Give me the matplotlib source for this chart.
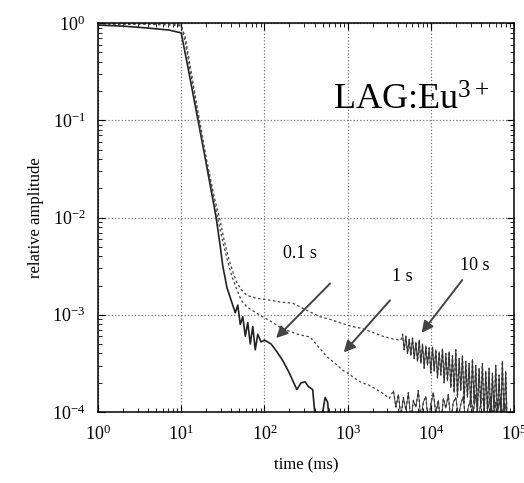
import numpy as np
import matplotlib
matplotlib.use("Agg")
import matplotlib.pyplot as plt

plt.rcParams['font.family'] = ['Liberation Serif', 'DejaVu Serif']
plt.rcParams['mathtext.fontset'] = 'custom'
plt.rcParams['mathtext.rm'] = 'Liberation Serif'
plt.rcParams['mathtext.it'] = 'Liberation Serif:italic'

# decay curves as log10(time / ms) and log10(amplitude)
# 0.1 s excitation (solid)
lt_01 = [0.0, 0.3, 0.6, 0.85, 1.0, 1.08, 1.18, 1.28, 1.36, 1.42, 1.47, 1.50, 1.55, 1.60,
         1.65, 1.68, 1.71, 1.74, 1.77, 1.80, 1.83, 1.86, 1.89, 1.92, 1.96, 2.0, 2.08, 2.15,
         2.22, 2.30, 2.39, 2.44, 2.49, 2.53, 2.58, 2.61, 2.66, 2.70, 2.73, 2.76, 2.79, 2.82, 2.86]
ly_01 = [-0.02, -0.03, -0.05, -0.07, -0.10, -0.45, -0.90, -1.35, -1.72, -2.0, -2.3, -2.5, -2.72, -2.85,
         -2.98, -2.9, -3.1, -3.02, -3.22, -3.08, -3.3, -3.12, -3.36, -3.2, -3.28, -3.26, -3.3, -3.38,
         -3.47, -3.6, -3.77, -3.7, -3.69, -3.74, -3.77, -4.05, -4.3, -4.0, -3.85, -3.9, -4.2, -4.4, -4.5]

# 1 s excitation (dashed)
lt_1 = [0.0, 0.5, 0.9, 1.0, 1.05, 1.12, 1.2, 1.3, 1.4, 1.45, 1.5, 1.55, 1.6, 1.65, 1.72, 1.79,
        1.9, 2.0, 2.1, 2.19, 2.3, 2.4, 2.55, 2.65, 2.75, 2.85, 2.94, 3.0, 3.08, 3.17, 3.25, 3.33,
        3.41, 3.5, 3.55, 3.58, 3.61, 3.64, 3.67, 3.70, 3.73, 3.76, 3.79, 3.82, 3.85, 3.88, 3.91,
        3.94, 3.97, 4.00, 4.03, 4.06, 4.09, 4.12, 4.15, 4.18, 4.21, 4.24, 4.27, 4.30, 4.33, 4.36,
        4.39, 4.42, 4.45, 4.48, 4.51, 4.54, 4.57, 4.60, 4.63, 4.66, 4.69, 4.72, 4.75, 4.78, 4.81,
        4.84, 4.87, 4.90]
ly_1 = [-0.01, -0.01, -0.02, -0.03, -0.2, -0.55, -0.95, -1.42, -1.85, -2.05, -2.25, -2.42, -2.58, -2.7, -2.85, -2.92,
        -2.98, -3.03, -3.08, -3.13, -3.17, -3.2, -3.23, -3.33, -3.43, -3.5, -3.57, -3.6, -3.65, -3.7, -3.72, -3.76,
        -3.8, -3.86, -3.78, -3.95, -3.82, -4.05, -3.85, -3.98, -3.80, -4.10, -3.88, -3.95, -3.78, -4.08, -3.90,
        -3.84, -4.12, -3.92, -3.80, -4.02, -3.88, -4.15, -3.86, -3.96, -3.82, -4.10, -3.90, -3.85, -4.05, -3.92,
        -3.84, -4.12, -3.95, -3.86, -4.00, -3.82, -4.10, -3.90, -3.86, -4.08, -3.94, -3.84, -4.12, -3.90, -3.96,
        -3.85, -4.10, -3.92]

# 10 s excitation (dashed)
lt_10 = [0.0, 0.5, 0.9, 1.0, 1.05, 1.12, 1.2, 1.3, 1.4, 1.46, 1.52, 1.58, 1.63, 1.67, 1.72, 1.79,
         1.9, 2.07, 2.2, 2.34, 2.5, 2.67, 2.8, 2.94, 3.05, 3.17, 3.3, 3.42, 3.55, 3.64,
         3.66, 3.68, 3.70, 3.72, 3.74, 3.76, 3.78, 3.80, 3.82, 3.84, 3.86, 3.88, 3.90, 3.92, 3.94, 3.96,
         3.98, 4.00, 4.02, 4.04, 4.06, 4.08, 4.10, 4.12, 4.14, 4.16, 4.18, 4.20, 4.22, 4.24, 4.26, 4.28,
         4.30, 4.32, 4.34, 4.36, 4.38, 4.40, 4.42, 4.44, 4.46, 4.48, 4.50, 4.52, 4.54, 4.56, 4.58, 4.60,
         4.62, 4.64, 4.66, 4.68, 4.70, 4.72, 4.74, 4.76, 4.78, 4.80, 4.82, 4.84, 4.86, 4.88, 4.90, 4.92]
ly_10 = [-0.01, -0.01, -0.01, -0.02, -0.15, -0.5, -0.9, -1.38, -1.8, -2.0, -2.25, -2.45, -2.58, -2.67, -2.74, -2.8,
         -2.83, -2.85, -2.87, -2.88, -2.95, -3.02, -3.05, -3.09, -3.12, -3.14, -3.18, -3.22, -3.25, -3.26,
         -3.20, -3.36, -3.22, -3.40, -3.25, -3.42, -3.24, -3.45, -3.28, -3.48, -3.26, -3.50, -3.30, -3.55, -3.32, -3.52,
         -3.34, -3.60, -3.33, -3.58, -3.36, -3.65, -3.38, -3.62, -3.35, -3.70, -3.40, -3.68, -3.38, -3.75, -3.42, -3.80,
         -3.36, -3.85, -3.45, -3.78, -3.42, -3.90, -3.48, -3.85, -3.50, -3.95, -3.46, -3.92, -3.52, -4.00, -3.55, -3.95,
         -3.50, -4.05, -3.58, -3.98, -3.55, -4.10, -3.60, -4.02, -3.52, -4.08, -3.62, -4.05, -3.48, -4.10, -3.58, -4.20]

# annotations: label, text position, arrow tail, arrow head (ms, amplitude)
labels = ['0.1 s', '1 s', '10 s']
label_xy = [(269, 4.3e-3), (4500, 2.45e-3), (34000, 3.2e-3)]
tail_xy = [(650, 2.2e-3), (3400, 1.48e-3), (25000, 2.4e-3)]
head_xy = [(131, 5.5e-4), (855, 3.9e-4), (7400, 6.2e-4)]

fig = plt.figure(figsize=(5.24, 4.83), dpi=100)
ax = fig.add_axes([0.187, 0.147, 0.794, 0.805])

t01, y01 = 10 ** np.array(lt_01), 10 ** np.array(ly_01)
t1, y1 = 10 ** np.array(lt_1), 10 ** np.array(ly_1)
t10, y10 = 10 ** np.array(lt_10), 10 ** np.array(ly_10)

ax.plot(t01, y01, color='#222222', lw=1.2)
ax.plot(t1, y1, color='#444444', lw=0.9, ls=(0, (2, 2)))
ax.plot(t10, y10, color='#444444', lw=0.9, ls=(0, (2, 2)))
# the noisy tails look nearly solid in the scan
ax.plot(t1[34:], y1[34:], color='#333333', lw=0.6)
ax.plot(t10[30:], y10[30:], color='#333333', lw=0.7)

ax.set_xscale('log')
ax.set_yscale('log')
ax.set_xlim(1, 1e5)
ax.set_ylim(1e-4, 1)

ax.grid(True, which='major', ls=':', color='#777777', lw=0.9)
ax.tick_params(which='both', direction='in', top=True, right=True, labelsize=13)
ax.tick_params(which='major', length=5, pad=9)
ax.tick_params(which='minor', length=3)
for s in ax.spines.values():
    s.set_linewidth(1.1)

ax.set_xlabel('time (ms)', fontsize=12, labelpad=10)
ax.set_ylabel('relative amplitude', fontsize=12, labelpad=6)

for lab, txy, t, h in zip(labels, label_xy, tail_xy, head_xy):
    ax.text(txy[0], txy[1], lab, fontsize=13, ha='center', va='center')
    ax.annotate('', xy=h, xytext=t,
                arrowprops=dict(arrowstyle='-|>', color='#444444', lw=1.4, mutation_scale=17))

ax.text(0.565, 0.776, 'LAG:Eu$^{3+}$', transform=ax.transAxes, fontsize=26,
        ha='left', va='baseline')

fig.savefig('out.png', dpi=100)
